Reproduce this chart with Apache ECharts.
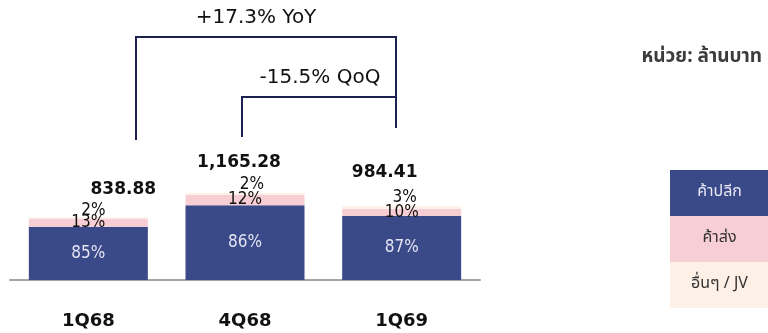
<!DOCTYPE html>
<html>
<head>
<meta charset="utf-8">
<script src="https://cdn.jsdelivr.net/npm/echarts@6/dist/echarts.min.js"></script>
<style>
html,body{margin:0;padding:0;background:#fff;}
#c{width:768px;height:333px;}
</style>
</head>
<body>
<div id="c"></div>
<script>
var categories = ['1Q68', '4Q68', '1Q69'];
var totals = [838.88, 1165.28, 984.41];
var totalLabels = ['838.88', '1,165.28', '984.41'];
var retail = [713.05, 1002.14, 856.44];
var wholesale = [109.05, 139.83, 98.44];
var others = [16.78, 23.31, 29.53];
var retailPct = ['85%', '86%', '87%'];
var wholesalePct = ['13%', '12%', '10%'];
var othersPct = ['2%', '2%', '3%'];
var seriesNames = ['ค้าปลีก', 'ค้าส่ง', 'อื่นๆ / JV'];
var unitText = 'หน่วย: ล้านบาท';
var yoyText = '+17.3% YoY';
var qoqText = '-15.5% QoQ';

var colors = ['#3a4987', '#f7ced4', '#fdf0e7'];
var FONT = '"DejaVu Sans", Verdana, sans-serif';
var PFONT = '"DejaVu Sans Condensed", "DejaVu Sans", sans-serif';
var THAI = '"Noto Sans Thai", "Noto Sans", "Noto Sans CJK SC", sans-serif';

var chart = echarts.init(document.getElementById('c'), null, {renderer: 'canvas'});

var otherOffsets = [[5, -7], [7, -9], [3, -10]];
var totalOffsets = [[35, -19], [-6, -21], [-17, -25]];

var lineColor = '#1c2150';
var legendItems = [];
var legendTop = 170, rowH = 46, lx = 670, lw = 99;
for (var i = 0; i < seriesNames.length; i++) {
  legendItems.push({
    type: 'rect',
    shape: {x: lx, y: legendTop + i * rowH, width: lw, height: rowH},
    style: {fill: colors[i]},
    silent: true
  });
  legendItems.push({
    type: 'text',
    x: lx + lw / 2,
    y: legendTop + i * rowH + rowH / 2,
    style: {
      text: seriesNames[i],
      fill: i === 0 ? '#e6e8f4' : '#333333',
      font: '16px ' + THAI,
      textAlign: 'center',
      textVerticalAlign: 'middle'
    },
    silent: true
  });
}

var option = {
  animation: false,
  backgroundColor: '#ffffff',
  grid: {left: 10, width: 470, top: 56, bottom: 53, containLabel: false},
  xAxis: {
    type: 'category',
    data: categories,
    axisLine: {lineStyle: {color: '#a6a6a6', width: 2}},
    axisTick: {show: false},
    axisLabel: {
      margin: 32,
      color: '#111111',
      fontFamily: FONT,
      fontSize: 18,
      fontWeight: 'bold'
    }
  },
  yAxis: {
    type: 'value', min: 0, max: 3000, show: false,
    splitLine: {show: false}
  },
  series: [
    {
      name: seriesNames[0], type: 'bar', stack: 'a', barWidth: 119,
      data: retail,
      itemStyle: {color: colors[0]},
      label: {
        show: true, position: 'inside', color: '#e4e4f4',
        fontFamily: PFONT, fontSize: 17,
        formatter: function (p) { return retailPct[p.dataIndex]; }
      }
    },
    {
      name: seriesNames[1], type: 'bar', stack: 'a', barWidth: 119,
      data: wholesale,
      itemStyle: {color: colors[1]},
      label: {
        show: true, position: 'inside', color: '#111111',
        fontFamily: PFONT, fontSize: 17,
        formatter: function (p) { return wholesalePct[p.dataIndex]; }
      }
    },
    {
      name: seriesNames[2], type: 'bar', stack: 'a', barWidth: 119,
      data: others.map(function (v, i) {
        return {value: v, label: {offset: otherOffsets[i]}};
      }),
      itemStyle: {color: colors[2]},
      label: {
        show: true, position: 'inside', color: '#111111',
        fontFamily: PFONT, fontSize: 17,
        formatter: function (p) { return othersPct[p.dataIndex]; }
      }
    },
    {
      name: 'total', type: 'line',
      data: totals.map(function (v, i) {
        return {value: v, label: {offset: totalOffsets[i]}};
      }),
      symbol: 'circle', symbolSize: 1,
      itemStyle: {color: 'rgba(0,0,0,0)'},
      lineStyle: {opacity: 0},
      label: {
        show: true, position: 'top', distance: 0, color: '#111111',
        fontFamily: FONT, fontSize: 17, fontWeight: 'bold',
        formatter: function (p) { return totalLabels[p.dataIndex]; }
      },
      z: 10
    }
  ],
  graphic: [
    {
      type: 'polyline', silent: true,
      shape: {points: [[136, 140], [136, 37], [396, 37], [396, 128]]},
      style: {stroke: lineColor, lineWidth: 2, fill: null}
    },
    {
      type: 'polyline', silent: true,
      shape: {points: [[242, 137], [242, 97], [396, 97]]},
      style: {stroke: lineColor, lineWidth: 2, fill: null}
    },
    {
      type: 'text', silent: true, x: 256, y: 18,
      style: {text: yoyText, fill: '#111111', font: '20px ' + FONT, textAlign: 'center', textVerticalAlign: 'middle'}
    },
    {
      type: 'text', silent: true, x: 320, y: 78,
      style: {text: qoqText, fill: '#111111', font: '20px ' + FONT, textAlign: 'center', textVerticalAlign: 'middle'}
    },
    {
      type: 'text', silent: true, x: 762, y: 58,
      style: {text: unitText, fill: '#3c3c3c', font: 'bold 19px ' + THAI, textAlign: 'right', textVerticalAlign: 'middle'}
    }
  ].concat(legendItems)
};
chart.setOption(option);
</script>
</body>
</html>
